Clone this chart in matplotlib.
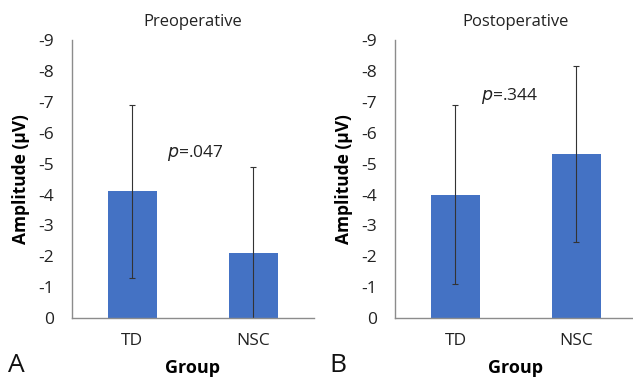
import matplotlib
matplotlib.use("Agg")
import matplotlib.pyplot as plt

plt.rcParams['font.family'] = ['Open Sans', 'DejaVu Sans']
plt.rcParams['axes.unicode_minus'] = False

groups = ['TD', 'NSC']
pre_means = [-4.1, -2.1]
pre_err = [2.8, 2.8]
post_means = [-4.0, -5.3]
post_err = [2.9, 2.85]
titles = ['Preoperative', 'Postoperative']
p_labels = ['.047', '.344']
p_pos = [(0.52, -5.35), (0.45, -7.2)]
panel_letters = ['A', 'B']

bar_color = '#4472C4'
axis_color = '#8c8c8c'

fig = plt.figure(figsize=(6.33, 3.79), dpi=100)
ax_a = fig.add_axes([0.1137, 0.161, 0.382, 0.733])
ax_b = fig.add_axes([0.624, 0.161, 0.382, 0.733])

data = [(pre_means, pre_err), (post_means, post_err)]
for i, ax in enumerate([ax_a, ax_b]):
    means, errs = data[i]
    ax.bar(range(len(groups)), means, width=0.4, color=bar_color,
           yerr=errs, error_kw=dict(ecolor='#333333', elinewidth=0.8, capsize=2.5, capthick=0.8))
    ax.set_xlim(-0.5, 1.5)
    ax.set_ylim(0, -9)
    ax.set_yticks(range(0, -10, -1))
    ax.set_xticks(range(len(groups)))
    ax.set_xticklabels(groups)
    ax.tick_params(length=0, labelsize=12.5, colors='#222222')
    ax.tick_params(axis='y', pad=13)
    ax.tick_params(axis='x', pad=11)
    for s in ['top', 'right']:
        ax.spines[s].set_visible(False)
    for s in ['left', 'bottom']:
        ax.spines[s].set_color(axis_color)
        ax.spines[s].set_linewidth(1.0)
    ax.set_title(titles[i], fontsize=12, color='#222222', pad=10)
    ax.set_ylabel('Amplitude (µV)', fontsize=12.5, fontweight='bold', labelpad=6)
    ax.set_xlabel('Group', fontsize=13, fontweight='bold', labelpad=7)
    ax.text(p_pos[i][0], p_pos[i][1], r'$\it{p}$=' + p_labels[i], fontsize=12.5,
            ha='center', va='center', color='#222222')

fig.text(0.013, 0.018, panel_letters[0], fontsize=19, color='#111111')
fig.text(0.52, 0.018, panel_letters[1], fontsize=19, color='#111111')

fig.savefig('out.png', dpi=100)
